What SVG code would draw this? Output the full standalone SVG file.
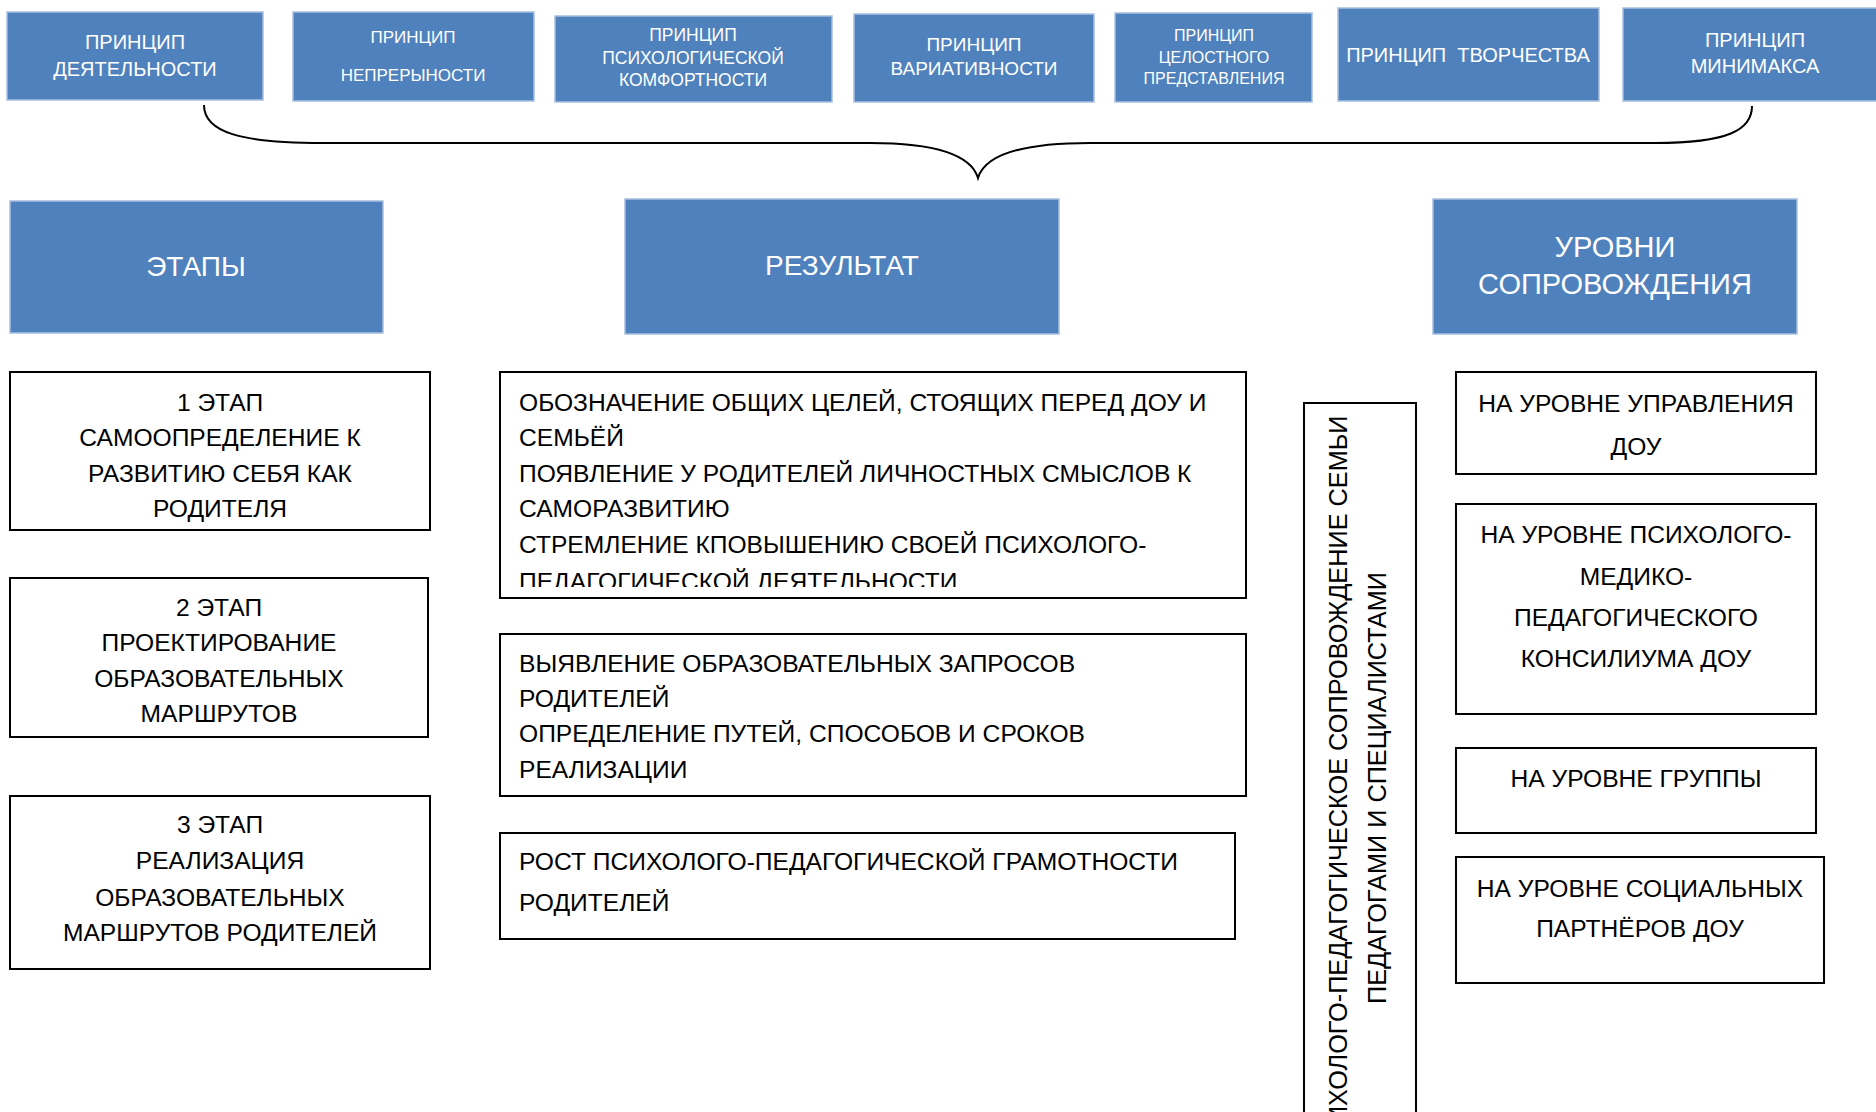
<svg xmlns="http://www.w3.org/2000/svg" width="1876" height="1112" viewBox="0 0 1876 1112">
<style>
.blue{fill:#4f81bd;stroke:#a8bfdf;stroke-width:1.5}
.wbox{fill:#ffffff;stroke:#000000;stroke-width:2}
.wt{font-family:"Liberation Sans",Arial,sans-serif;fill:#ffffff;text-anchor:middle}
.bt{font-family:"Liberation Sans",Arial,sans-serif;fill:#000000;font-size:24.6px}
.vt{font-family:"Liberation Sans",Arial,sans-serif;fill:#000000;font-size:25.3px;text-anchor:middle}
.c{text-anchor:middle}
.conn{fill:none;stroke:#000000;stroke-width:2}
</style>
<defs>
<clipPath id="clipR1"><rect x="500" y="372" width="746" height="215"/></clipPath>
</defs>
<rect width="1876" height="1112" fill="#ffffff"/>

<g id="p1">
<rect class="blue" x="7" y="12" width="256" height="88"/>
<text class="wt" font-size="20" x="135" y="49">ПРИНЦИП</text>
<text class="wt" font-size="20" x="135" y="76">ДЕЯТЕЛЬНОСТИ</text>
</g>
<g id="p2">
<rect class="blue" x="293" y="12" width="241" height="89"/>
<text class="wt" font-size="17" x="413" y="43">ПРИНЦИП</text>
<text class="wt" font-size="17" x="413" y="81">НЕПРЕРЫНОСТИ</text>
</g>
<g id="p3">
<rect class="blue" x="555" y="16" width="277" height="86"/>
<text class="wt" font-size="17.5" x="693" y="41">ПРИНЦИП</text>
<text class="wt" font-size="17.5" x="693" y="64">ПСИХОЛОГИЧЕСКОЙ</text>
<text class="wt" font-size="17.5" x="693" y="86">КОМФОРТНОСТИ</text>
</g>
<g id="p4">
<rect class="blue" x="854" y="14" width="240" height="88"/>
<text class="wt" font-size="19" x="974" y="51">ПРИНЦИП</text>
<text class="wt" font-size="19" x="974" y="75">ВАРИАТИВНОСТИ</text>
</g>
<g id="p5">
<rect class="blue" x="1115" y="13" width="197" height="89"/>
<text class="wt" font-size="16" x="1214" y="41">ПРИНЦИП</text>
<text class="wt" font-size="16" x="1214" y="63">ЦЕЛОСТНОГО</text>
<text class="wt" font-size="16" x="1214" y="84">ПРЕДСТАВЛЕНИЯ</text>
</g>
<g id="p6">
<rect class="blue" x="1338" y="8" width="261" height="93"/>
<text class="wt" font-size="20" x="1468" y="62" xml:space="preserve">ПРИНЦИП  ТВОРЧЕСТВА</text>
</g>
<g id="p7">
<rect class="blue" x="1623" y="8" width="262" height="93"/>
<text class="wt" font-size="20" x="1755" y="47">ПРИНЦИП</text>
<text class="wt" font-size="20" x="1755" y="73">МИНИМАКСА</text>
</g>

<g id="connectors">
<path class="conn" d="M 204 105 C 204 132 240 143 323 143 L 870 143 C 945 143 972 158 978 178 C 984 158 1012 143 1090 143 L 1655 143 C 1728 143 1752 130 1752 106"/>
</g>

<g id="h-stages">
<rect class="blue" x="10" y="201" width="373" height="132"/>
<text class="wt" font-size="28" x="196" y="276">ЭТАПЫ</text>
</g>
<g id="h-result">
<rect class="blue" x="625" y="199" width="434" height="135"/>
<text class="wt" font-size="28" x="842" y="275">РЕЗУЛЬТАТ</text>
</g>
<g id="h-levels">
<rect class="blue" x="1433" y="199" width="364" height="135"/>
<text class="wt" font-size="29" x="1615" y="257">УРОВНИ</text>
<text class="wt" font-size="29" x="1615" y="294">СОПРОВОЖДЕНИЯ</text>
</g>

<g id="stage1">
<rect class="wbox" x="10" y="372" width="420" height="158"/>
<text class="bt c" x="220" y="411">1 ЭТАП</text>
<text class="bt c" x="220" y="446">САМООПРЕДЕЛЕНИЕ К</text>
<text class="bt c" x="220" y="482">РАЗВИТИЮ СЕБЯ КАК</text>
<text class="bt c" x="220" y="517">РОДИТЕЛЯ</text>
</g>
<g id="stage2">
<rect class="wbox" x="10" y="578" width="418" height="159"/>
<text class="bt c" x="219" y="616">2 ЭТАП</text>
<text class="bt c" x="219" y="651">ПРОЕКТИРОВАНИЕ</text>
<text class="bt c" x="219" y="687">ОБРАЗОВАТЕЛЬНЫХ</text>
<text class="bt c" x="219" y="722">МАРШРУТОВ</text>
</g>
<g id="stage3">
<rect class="wbox" x="10" y="796" width="420" height="173"/>
<text class="bt c" x="220" y="833">3 ЭТАП</text>
<text class="bt c" x="220" y="869">РЕАЛИЗАЦИЯ</text>
<text class="bt c" x="220" y="906">ОБРАЗОВАТЕЛЬНЫХ</text>
<text class="bt c" x="220" y="941">МАРШРУТОВ РОДИТЕЛЕЙ</text>
</g>

<g id="result1">
<rect class="wbox" x="500" y="372" width="746" height="226"/>
<g clip-path="url(#clipR1)">
<text class="bt" x="519" y="411">ОБОЗНАЧЕНИЕ ОБЩИХ ЦЕЛЕЙ, СТОЯЩИХ ПЕРЕД ДОУ И</text>
<text class="bt" x="519" y="446">СЕМЬЁЙ</text>
<text class="bt" x="519" y="482">ПОЯВЛЕНИЕ У РОДИТЕЛЕЙ ЛИЧНОСТНЫХ СМЫСЛОВ К</text>
<text class="bt" x="519" y="517">САМОРАЗВИТИЮ</text>
<text class="bt" x="519" y="553">СТРЕМЛЕНИЕ КПОВЫШЕНИЮ СВОЕЙ ПСИХОЛОГО-</text>
<text class="bt" x="519" y="590">ПЕДАГОГИЧЕСКОЙ ДЕЯТЕЛЬНОСТИ</text>
</g>
</g>
<g id="result2">
<rect class="wbox" x="500" y="634" width="746" height="162"/>
<text class="bt" x="519" y="672">ВЫЯВЛЕНИЕ ОБРАЗОВАТЕЛЬНЫХ ЗАПРОСОВ</text>
<text class="bt" x="519" y="707">РОДИТЕЛЕЙ</text>
<text class="bt" x="519" y="742">ОПРЕДЕЛЕНИЕ ПУТЕЙ, СПОСОБОВ И СРОКОВ</text>
<text class="bt" x="519" y="778">РЕАЛИЗАЦИИ</text>
</g>
<g id="result3">
<rect class="wbox" x="500" y="833" width="735" height="106"/>
<text class="bt" x="519" y="870">РОСТ ПСИХОЛОГО-ПЕДАГОГИЧЕСКОЙ ГРАМОТНОСТИ</text>
<text class="bt" x="519" y="911">РОДИТЕЛЕЙ</text>
</g>

<g id="support">
<rect class="wbox" x="1304" y="403" width="112" height="720"/>
<text class="vt" transform="translate(1347,788) rotate(-90)" x="0" y="0">ПСИХОЛОГО-ПЕДАГОГИЧЕСКОЕ СОПРОВОЖДЕНИЕ СЕМЬИ</text>
<text class="vt" transform="translate(1386,788) rotate(-90)" x="0" y="0">ПЕДАГОГАМИ И СПЕЦИАЛИСТАМИ</text>
</g>

<g id="level1">
<rect class="wbox" x="1456" y="372" width="360" height="102"/>
<text class="bt c" x="1636" y="412">НА УРОВНЕ УПРАВЛЕНИЯ</text>
<text class="bt c" x="1636" y="455">ДОУ</text>
</g>
<g id="level2">
<rect class="wbox" x="1456" y="504" width="360" height="210"/>
<text class="bt c" x="1636" y="543">НА УРОВНЕ ПСИХОЛОГО-</text>
<text class="bt c" x="1636" y="585">МЕДИКО-</text>
<text class="bt c" x="1636" y="626">ПЕДАГОГИЧЕСКОГО</text>
<text class="bt c" x="1636" y="667">КОНСИЛИУМА ДОУ</text>
</g>
<g id="level3">
<rect class="wbox" x="1456" y="748" width="360" height="85"/>
<text class="bt c" x="1636" y="787">НА УРОВНЕ ГРУППЫ</text>
</g>
<g id="level4">
<rect class="wbox" x="1456" y="857" width="368" height="126"/>
<text class="bt c" x="1640" y="897">НА УРОВНЕ СОЦИАЛЬНЫХ</text>
<text class="bt c" x="1640" y="937">ПАРТНЁРОВ ДОУ</text>
</g>
</svg>
